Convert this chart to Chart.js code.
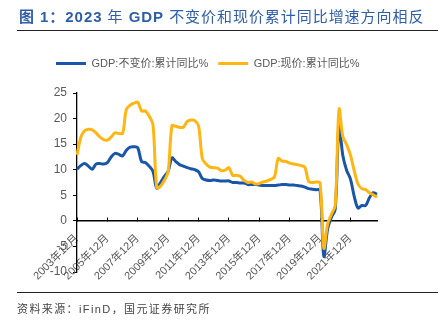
<!DOCTYPE html>
<html>
<head>
<meta charset="utf-8">
<script src="https://cdn.jsdelivr.net/npm/chart.js@4.4.0/dist/chart.umd.min.js"></script>
<style>
  html, body { margin: 0; padding: 0; background: #fff; }
  body { width: 438px; height: 322px; position: relative; overflow: hidden;
         font-family: "Liberation Sans", "Noto Sans CJK SC", sans-serif; }
  #box { position: absolute; left: 0; top: 0; width: 438px; height: 322px; }
  .title { position: absolute; left: 19px; top: 7px; font-size: 15px; line-height: 20px;
           color: #2f5ea8; white-space: nowrap; letter-spacing: 0.95px; }
  .title b { font-weight: bold; }
  .rule { position: absolute; left: 17px; right: 0; height: 0; border-top: 1.5px solid #222; }
  .source { position: absolute; left: 17px; top: 301px; font-size: 11px; line-height: 16px;
            color: #444; letter-spacing: 1.4px; white-space: nowrap; }
</style>
</head>
<body>
<div id="box"><canvas id="grafico" width="438" height="322"></canvas></div>
<div class="title"><b>图 1：2023</b> 年 <b>GDP</b> 不变价和现价累计同比增速方向相反</div>
<div class="rule" style="top:30px"></div>
<div class="rule" style="top:292px"></div>
<div class="source">资料来源：iFinD，国元证券研究所</div>
<script>
// 季度序列：2003年12月 至 2023年09月
const categorias = ['2003年12月'];
for (let y = 2004; y <= 2023; y++) {
  ['03', '06', '09', '12'].forEach(m => {
    if (y === 2023 && m === '12') return;
    categorias.push(y + '年' + m + '月');
  });
}

const etiquetasX = ['2003年12月', '2005年12月', '2007年12月', '2009年12月', '2011年12月',
  '2013年12月', '2015年12月', '2017年12月', '2019年12月', '2021年12月'];

// GDP:不变价:累计同比
const gdpReal = [
  10.1,
  10.8, 11.2, 10.7, 10.1,
  11.1, 11.2, 11.1, 11.4,
  12.5, 13.2, 13.0, 12.7,
  13.8, 14.4, 14.5, 14.3,
  11.6, 11.4, 10.7, 9.7,
  6.4, 7.5, 8.7, 9.7,
  12.3, 11.6, 11.0, 10.7,
  10.4, 10.2, 10.0, 9.6,
  8.3, 8.0, 7.9, 8.0,
  7.9, 7.8, 7.8, 7.8,
  7.5, 7.5, 7.4, 7.4,
  7.1, 7.1, 7.1, 7.0,
  6.9, 6.9, 6.9, 6.9,
  7.0, 7.1, 7.1, 7.0,
  7.0, 6.9, 6.8, 6.6,
  6.3, 6.2, 6.1, 6.0,
  -6.9, -1.6, 0.7, 2.3,
  18.7, 12.8, 9.9, 8.2,
  4.8, 2.5, 3.0, 3.0,
  4.5, 5.5, 5.2
];

// GDP:现价:累计同比
const gdpNominal = [
  12.9,
  16.3, 17.6, 17.9, 17.8,
  17.2, 16.4, 15.9, 15.8,
  16.4, 17.2, 17.1, 17.1,
  21.8, 22.6, 23.0, 23.2,
  21.5, 21.5, 20.5, 18.8,
  6.5, 6.8, 7.9, 9.6,
  18.6, 18.5, 18.3, 18.3,
  19.4, 19.7, 19.6, 18.6,
  12.2, 11.1, 10.5, 10.4,
  10.3, 9.8, 9.9, 10.4,
  8.9, 8.9, 8.7, 7.9,
  7.5, 7.6, 7.2, 7.3,
  7.6, 7.8, 8.1, 8.6,
  12.2, 11.7, 11.6, 11.3,
  11.1, 11.0, 10.8, 10.5,
  7.7, 7.5, 7.6, 7.4,
  -5.3, -0.6, 1.3, 3.0,
  21.8, 16.5, 14.9, 12.9,
  9.8, 7.2, 6.3, 6.1,
  5.5, 5.1, 4.6
];

const fuente = { family: '"Liberation Sans", "Noto Sans CJK SC", sans-serif', size: 11 };
const gris = '#595959';

// deja aire entre la leyenda y el área del gráfico
const espacioLeyenda = {
  id: 'espacioLeyenda',
  beforeInit(chart) {
    const fitOriginal = chart.legend.fit;
    chart.legend.fit = function () {
      fitOriginal.bind(chart.legend)();
      this.height += 14;
    };
  }
};

const ctx = document.getElementById('grafico').getContext('2d');
new Chart(ctx, {
  type: 'line',
  data: {
    labels: categorias,
    datasets: [{
      label: 'GDP:不变价:累计同比%',
      data: gdpReal,
      borderColor: '#1a56a8',
      backgroundColor: '#1a56a8',
      borderWidth: 3,
      pointRadius: 0,
      tension: 0.35,
      order: 1
    }, {
      label: 'GDP:现价:累计同比%',
      data: gdpNominal,
      borderColor: '#ffb612',
      backgroundColor: '#ffb612',
      borderWidth: 3,
      pointRadius: 0,
      tension: 0.35,
      order: 0
    }]
  },
  options: {
    responsive: false,
    animation: false,
    layout: { padding: { top: 48, right: 61, bottom: 50, left: 46 } },
    plugins: {
      legend: {
        display: true,
        align: 'start',
        labels: {
          font: fuente,
          color: gris,
          usePointStyle: true,
          pointStyle: 'line',
          pointStyleWidth: 30,
          padding: 10,
          sort: (a, b) => a.datasetIndex - b.datasetIndex
        }
      },
      tooltip: { enabled: false }
    },
    scales: {
      x: {
        type: 'category',
        position: { y: 0 },
        offset: false,
        grid: { display: true, drawOnChartArea: false, drawTicks: true, tickLength: -4, color: '#000', lineWidth: 1 },
        border: { display: true, color: '#000', width: 1.5 },
        ticks: {
          autoSkip: false,
          minRotation: 45,
          maxRotation: 45,
          padding: 15,
          font: fuente,
          color: gris,
          callback: function (value) {
            const etiqueta = this.getLabelForValue(value);
            return etiquetasX.includes(etiqueta) ? etiqueta : null;
          }
        }
      },
      y: {
        min: -10,
        max: 25,
        grid: { display: true, drawOnChartArea: false, drawTicks: true, tickLength: 4, color: '#000' },
        border: { display: true, color: '#000', width: 1.3 },
        ticks: { stepSize: 5, padding: 6, font: { ...fuente, size: 12 }, color: gris },
        afterFit: function (escala) { escala.width = 31; }
      }
    }
  },
  plugins: [espacioLeyenda]
});
</script>
</body>
</html>
